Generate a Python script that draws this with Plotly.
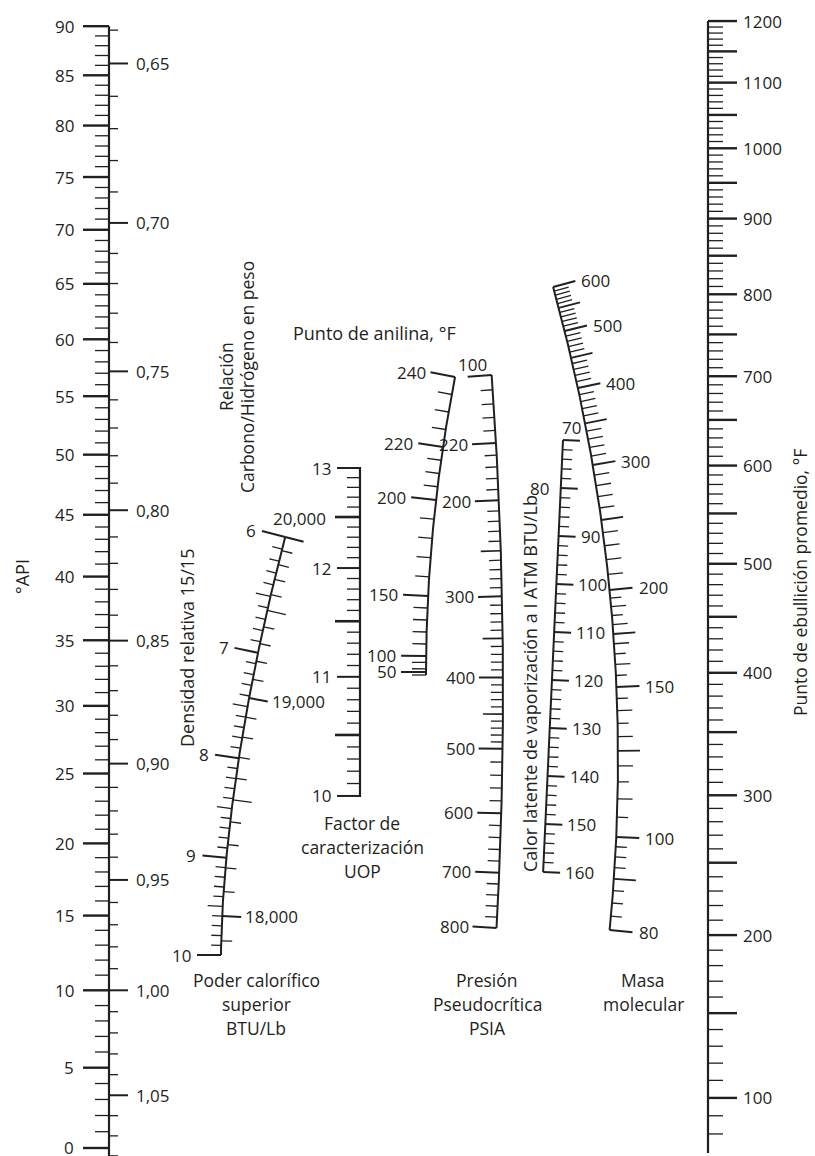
import numpy as np
import plotly.graph_objects as go

# ======================= DATA (scale values & tick labels) =======================
api_labeled = [0, 5, 10, 15, 20, 25, 30, 35, 40, 45, 50, 55, 60, 65, 70, 75, 80, 85, 90]
api_minor = [v for v in range(0, 91) if v % 5 != 0]

sg_labeled = [0.65, 0.70, 0.75, 0.80, 0.85, 0.90, 0.95, 1.00, 1.05]
sg_text = ["0,65", "0,70", "0,75", "0,80", "0,85", "0,90", "0,95", "1,00", "1,05"]
sg_minor = [v / 100 for v in range(64, 109) if v % 5 != 0]

bp_labeled = [100, 200, 300, 400, 500, 600, 700, 800, 900, 1000, 1100, 1200]
bp_half = [150, 250, 350, 450, 550, 650, 750, 850, 950, 1050, 1150]
bp_minor = [v for v in range(80, 1200, 10) if v % 50 != 0]

uop_labeled = [10, 11, 12, 13]
uop_half = [10.5, 11.5, 12.5]
uop_minor = [v / 10 for v in range(101, 130) if v % 5 != 0]

anil_labeled = [50, 100, 150, 200, 220, 240]
anil_minor = [40, 60, 80, 110, 120, 130, 140, 160, 170, 180, 190,
              205, 210, 215, 225, 230, 235]

pres_values = [100, 150, 200, 300, 400, 500, 600, 700, 800]
pres_labels = ["100", "220", "200", "300", "400", "500", "600", "700", "800"]
pres_mid = [250, 350, 450]
pres_minor = [v for v in range(110, 500, 10) if v % 50 != 0] + \
             [520, 540, 560, 580, 620, 640, 660, 680, 720, 740, 760, 780]

lat_labeled = [70, 80, 90, 100, 110, 120, 130, 140, 150, 160]
lat_minor = [v for v in range(72, 160, 2) if v % 10 != 0]

mw_labeled = [80, 100, 150, 200, 300, 400, 500, 600]
mw_mid = [90, 125, 175, 250, 350, 450, 550]
mw_minor = [82.5, 85, 87.5, 92.5, 95, 97.5,
            105, 110, 115, 120, 130, 135, 140, 145,
            155, 160, 165, 170, 180, 185, 190, 195,
            210, 220, 230, 240, 260, 270, 280, 290,
            310, 320, 330, 340, 360, 370, 380, 390,
            410, 420, 430, 440, 460, 470, 480, 490,
            510, 520, 530, 540, 560, 570, 580, 590]

ch_labeled = [6, 7, 8, 9, 10]
ch_mid = [6.5, 7.5, 8.5, 9.5]
ch_minor = [v / 10 for v in range(61, 100) if v % 5 != 0]

hv_labeled = [18000, 19000, 20000]
hv_text = ["18,000", "19,000", "20,000"]
hv_mid = [18500, 19500]
hv_minor = [v for v in range(17900, 20000, 100) if v % 500 != 0]

# ======================= SCALE GEOMETRY (nomograph axes) =======================
W, H = 815, 1156
INK = "#231f20"
FONT = "Open Sans"
FS = 17      # tick labels
TS = 17.5    # titles

X_API = 109
def y_api(a):
    return 990.3 + 4954 * np.log10(141.5 / (np.asarray(a, float) + 131.5))
def y_sg(s):
    return 990.3 + 4954 * np.log10(np.asarray(s, float))

X_BP = 708
def y_bp(t):
    return 7368.9 - 991 * np.log(np.asarray(t, float) + 460)

X_UOP = 360
def y_uop(k):
    return 468 + 1250 * np.log(13 / np.asarray(k, float))

ANIL_CAL_V = [40, 50, 100, 150, 200, 220, 240]
ANIL_CAL_Y = [675, 672, 656, 596, 500, 447, 377]
def y_anil(v):
    return np.interp(np.asarray(v, float), ANIL_CAL_V, ANIL_CAL_Y)
def x_anil(y):
    return 426 + 3.27e-4 * (675 - np.asarray(y, float)) ** 2

def y_pres(p):
    return 72.6 + 30.24 * np.sqrt(np.asarray(p, float))
def x_pres(y):
    return 503 - 1.145e-4 * (np.asarray(y, float) - 690) ** 2

def y_lat(l):
    return 440 + 4.8 * (np.asarray(l, float) - 70)
def x_lat(y):
    return 563 - 0.046 * (np.asarray(y, float) - 440)

MW_CAL_V = [80, 100, 150, 200, 300, 400, 500, 600]
MW_CAL_Y = [930, 837, 687, 590, 465, 388, 331, 287]
def y_mw(m):
    return np.interp(np.log(np.asarray(m, float) - 40), np.log(np.array(MW_CAL_V, float) - 40), MW_CAL_Y)
def x_mw(y):
    return 618 - 2.9e-4 * (np.asarray(y, float) - 760) ** 2

CH_CAL_V = [6, 7, 8, 9, 10]
CH_CAL_Y = [537, 653, 758, 858, 955]
_ch_poly = np.polyfit(CH_CAL_V, CH_CAL_Y, 3)
def y_ch(r):
    return np.polyval(_ch_poly, np.asarray(r, float))
HV_CAL_V = [18000, 19000, 20000]
HV_CAL_Y = [916, 698, 537]
_hv_poly = np.polyfit(np.array(HV_CAL_V) / 1000.0, HV_CAL_Y, 2)
def y_hv(h):
    return np.polyval(_hv_poly, np.asarray(h, float) / 1000.0)
def x_ch(y):
    return 221 + 0.002247 * np.clip(955 - np.asarray(y, float), 0, None) ** 1.7

# ======================= DRAWING HELPERS =======================
traces = []
annots = []

def add_lines(X, Y, width):
    traces.append(go.Scatter(x=X, y=Y, mode="lines", hoverinfo="skip",
                             line=dict(color=INK, width=width), showlegend=False))

def normal(fx, y, side):
    y = np.asarray(y, float)
    d = (fx(y + 0.5) - fx(y - 0.5))
    n = np.sqrt(1 + d * d)
    if side == "left":
        return -1 / n, d / n
    return 1 / n, -d / n

def ticks(fx, ys, side, length, width):
    ys = np.atleast_1d(np.asarray(ys, float))
    X, Y, ends = [], [], []
    for y in ys:
        x = float(fx(y))
        nx, ny = normal(fx, y, side)
        x1, y1 = x + nx * length, y + ny * length
        X += [x, x1, None]
        Y += [y, y1, None]
        ends.append((x1, y1))
    add_lines(X, Y, width)
    return ends

def curve(fx, y0, y1, width=2):
    ys = np.linspace(y0, y1, 200)
    add_lines(list(fx(ys)), list(ys), width)

def text(x, y, s, anchor="left", size=FS, angle=0, yanchor="middle"):
    annots.append(dict(x=x, y=y, xref="x", yref="y", text=s, showarrow=False,
                       xanchor=anchor, yanchor=yanchor, textangle=angle,
                       font=dict(family=FONT, size=size, color=INK)))

def label_ends(ends, labels, side, gap=3):
    for (x, y), s in zip(ends, labels):
        if side == "left":
            text(x - gap, y, s, "right")
        else:
            text(x + gap, y, s, "left")

const = lambda c: (lambda y: np.full_like(np.asarray(y, float), c))

# ---------- API / SG axis ----------
f_api = const(X_API)
add_lines([X_API, X_API], [float(y_api(90)), H], 2.2)
e = ticks(f_api, y_api(api_labeled), "left", 26, 2.4)
label_ends(e, [str(v) for v in api_labeled], "left", 7)
ticks(f_api, y_api(api_minor), "left", 14, 1.3)
e = ticks(f_api, y_sg(sg_labeled), "right", 19, 2.0)
label_ends(e, sg_text, "right", 6)
ticks(f_api, y_sg(sg_minor), "right", 9, 1.3)

# ---------- Boiling point axis ----------
f_bp = const(X_BP)
add_lines([X_BP, X_BP], [float(y_bp(1200)), 1153], 2.2)
e = ticks(f_bp, y_bp(bp_labeled), "right", 29, 2.4)
label_ends(e, [str(v) for v in bp_labeled], "right", 4)
ticks(f_bp, y_bp(bp_half), "right", 29, 2.4)
ticks(f_bp, y_bp(bp_minor), "right", 15, 1.3)

# ---------- UOP factor ----------
f_uop = const(X_UOP)
add_lines([X_UOP, X_UOP], [float(y_uop(13)) - 1, float(y_uop(10)) + 1], 2.2)
e = ticks(f_uop, y_uop(uop_labeled), "left", 23, 2.0)
label_ends(e, [str(v) for v in uop_labeled], "left", 4)
ticks(f_uop, y_uop(uop_half), "left", 25, 2.6)
ticks(f_uop, y_uop(uop_minor), "left", 13, 1.3)

# ---------- Aniline point ----------
curve(x_anil, float(y_anil(240)), float(y_anil(40)))
e = ticks(x_anil, y_anil(anil_labeled), "left", 25, 2.0)
label_ends(e, [str(v) for v in anil_labeled], "left", 3)
ticks(x_anil, y_anil(anil_minor), "left", 14, 1.3)

# ---------- Pseudocritical pressure ----------
curve(x_pres, float(y_pres(100)), float(y_pres(800)))
e = ticks(x_pres, y_pres(pres_values), "left", 24, 2.0)
(x0, y0) = e[0]
text(x0 + 5, y0 - 12, pres_labels[0], "center")
label_ends(e[1:], pres_labels[1:], "left", 2)
ticks(x_pres, y_pres(pres_mid), "left", 20, 1.6)
ticks(x_pres, y_pres(pres_minor), "left", 12, 1.3)

# ---------- Latent heat ----------
curve(x_lat, float(y_lat(70)), float(y_lat(160)))
e = ticks(x_lat, y_lat(lat_labeled), "right", 17, 2.0)
(x0, y0) = e[0]
text(x0 - 8, y0 - 13, str(lat_labeled[0]), "center")
xl = float(x_lat(y_lat(80)))
text(xl - 10, float(y_lat(80)), str(lat_labeled[1]), "right")
label_ends(e[2:], [str(v) for v in lat_labeled[2:]], "right", 3)
ticks(x_lat, y_lat(lat_minor), "right", 10, 1.3)

# ---------- Molecular weight ----------
curve(x_mw, float(y_mw(600)), float(y_mw(80)))
e = ticks(x_mw, y_mw(mw_labeled), "right", 23, 2.0)
label_ends(e, [str(v) for v in mw_labeled], "right", 4)
ticks(x_mw, y_mw(mw_mid), "right", 22, 1.8)
mw10 = [v for v in mw_minor if float(v) % 10 == 0]
mw_rest = [v for v in mw_minor if float(v) % 10 != 0]
ticks(x_mw, y_mw(mw10), "right", 15, 1.3)
ticks(x_mw, y_mw(mw_rest), "right", 11, 1.3)

# ---------- C/H ratio & heating value ----------
curve(x_ch, float(y_ch(6)), float(y_ch(10)))
e = ticks(x_ch, y_ch(ch_labeled), "left", 24, 2.0)
label_ends(e, [str(v) for v in ch_labeled], "left", 4)
ticks(x_ch, y_ch(ch_mid), "left", 15, 1.3)
ticks(x_ch, y_ch(ch_minor), "left", 10, 1.3)
e = ticks(x_ch, y_hv(hv_labeled), "right", 19, 2.0)
label_ends(e[:2], hv_text[:2], "right", 2)
(x0, y0) = e[2]
text(x0 - 4, y0 - 23, hv_text[2], "center")
ticks(x_ch, y_hv(hv_mid), "right", 19, 1.3)
ticks(x_ch, y_hv(hv_minor), "right", 11, 1.3)

# ---------- Titles ----------
text(22, 577, "°API", "center", 18, -90)
text(800, 583, "Punto de ebullición promedio, °F", "center", TS, -90)
text(187, 648, "Densidad relativa 15/15", "center", 18, -90)
text(226, 377, "Relación", "center", TS, -90)
text(247, 377, "Carbono/Hidrógeno en peso", "center", TS, -90)
text(374, 333, "Punto de anilina, °F", "center", 18)
text(530, 684, "Calor latente de vaporización a I ATM BTU/Lb", "center", 18, -90)
for i, s in enumerate(["Factor de", "caracterización", "UOP"]):
    text(362, 823 + 24 * i, s, "center", TS)
for i, s in enumerate(["Poder calorífico", "superior", "BTU/Lb"]):
    text(256, 980 + 24 * i, s, "center", TS)
for i, s in enumerate(["Presión", "Pseudocrítica", "PSIA"]):
    text(487, 980 + 24 * i, s, "center", TS)
for i, s in enumerate(["Masa", "molecular"]):
    text(643, 980 + 24 * i, s, "center", TS)

fig = go.Figure(traces)
fig.update_layout(
    width=W, height=H, margin=dict(l=0, r=0, t=0, b=0),
    paper_bgcolor="white", plot_bgcolor="white",
    xaxis=dict(range=[0, W], visible=False, fixedrange=True),
    yaxis=dict(range=[H, 0], visible=False, fixedrange=True),
    annotations=annots, showlegend=False,
)
fig.write_html("out.html", config={"displayModeBar": False},
               post_script="document.body.style.margin='0';document.body.style.overflow='hidden';")
